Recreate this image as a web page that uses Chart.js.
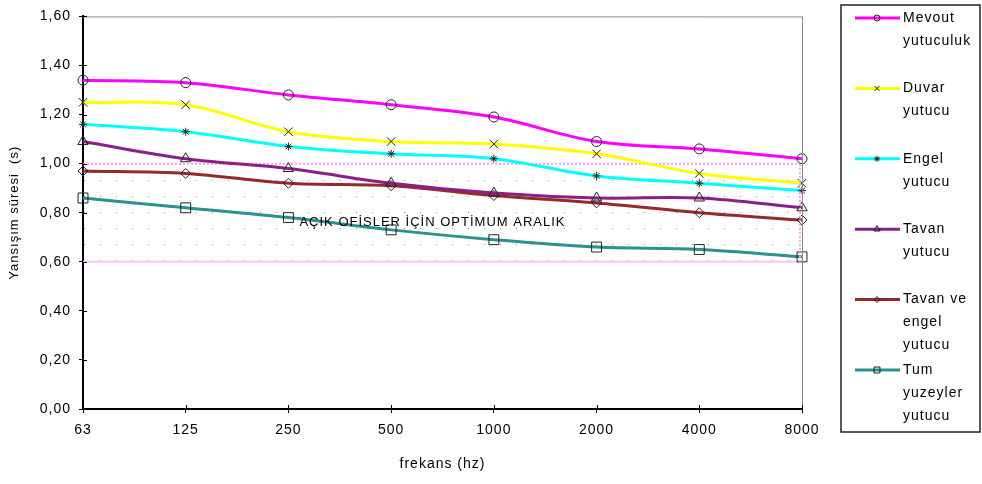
<!DOCTYPE html>
<html>
<head>
<meta charset="utf-8">
<script src="https://cdn.jsdelivr.net/npm/chart.js@4.4.1/dist/chart.umd.min.js"></script>
<style>
  html, body { margin: 0; padding: 0; background: #fff; }
</style>
</head>
<body>
<canvas id="chart" width="982" height="484"></canvas>
<script>
// frequency bands (x axis)
const frequencies = ["63", "125", "250", "500", "1000", "2000", "4000", "8000"];

// reverberation times
const mevcut     = [1.34, 1.33, 1.28, 1.24, 1.19, 1.09, 1.06, 1.02];
const duvar      = [1.25, 1.24, 1.13, 1.09, 1.08, 1.04, 0.96, 0.92];
const engel      = [1.16, 1.13, 1.07, 1.04, 1.02, 0.95, 0.92, 0.89];
const tavan      = [1.09, 1.02, 0.98, 0.92, 0.88, 0.86, 0.86, 0.82];
const tavanEngel = [0.97, 0.96, 0.92, 0.91, 0.87, 0.84, 0.80, 0.77];
const tum        = [0.86, 0.82, 0.78, 0.73, 0.69, 0.66, 0.65, 0.62];

// optimum range band for open offices
const bandLow  = [0.60, 0.60, 0.60, 0.60, 0.60, 0.60, 0.60, 0.60];
const bandHigh = [1.00, 1.00, 1.00, 1.00, 1.00, 1.00, 1.00, 1.00];
const bandText = "AÇIK OFİSLER İÇİN OPTİMUM ARALIK";

const seriesNames = [
  ["Mevout", "yutuculuk"],
  ["Duvar", "yutucu"],
  ["Engel", "yutucu"],
  ["Tavan", "yutucu"],
  ["Tavan ve", "engel", "yutucu"],
  ["Tum", "yuzeyler", "yutucu"],
];

const FONT = "'Liberation Sans', Arial, sans-serif";

// dotted fill for the band
const tile = document.createElement("canvas");
tile.width = 16;
tile.height = 16;
const tctx = tile.getContext("2d");
tctx.fillStyle = "#8c8c8c";
tctx.fillRect(4, 4, 1, 1);
const dots = tctx.createPattern(tile, "repeat");

function series(label, data, color, style, radius) {
  return {
    label: label,
    data: data,
    borderColor: color,
    backgroundColor: color,
    borderWidth: 3,
    tension: 0.35,
    fill: false,
    pointStyle: style,
    pointRadius: radius,
    pointBorderColor: "#222",
    pointBackgroundColor: "rgba(0,0,0,0)",
    pointBorderWidth: 1,
    order: 1,
  };
}

const lineSets = [
  series(seriesNames[0], mevcut, "#ff00ff", "circle", 5),
  series(seriesNames[1], duvar, "#ffff00", "crossRot", 6),
  series(seriesNames[2], engel, "#00ffff", "star", 4),
  series(seriesNames[3], tavan, "#8a1f8a", "triangle", 6),
  series(seriesNames[4], tavanEngel, "#962a2a", "rectRot", 5),
  series(seriesNames[5], tum, "#2a9090", "rect", 7),
];

const chartDecor = {
  id: "chartDecor",
  beforeLayout(chart) { chart.ctx.letterSpacing = "1px"; },
  beforeDraw(chart) { chart.ctx.letterSpacing = "1px"; },
  afterDatasetsDraw(chart) {
    const ctx = chart.ctx;
    const x = chart.scales.x, y = chart.scales.y;
    const a = chart.chartArea;
    ctx.save();
    // right edge of band
    ctx.strokeStyle = "#ff99ff";
    ctx.lineWidth = 2;
    ctx.setLineDash([2, 2]);
    ctx.beginPath();
    ctx.moveTo(a.right - 2, y.getPixelForValue(bandHigh[7]));
    ctx.lineTo(a.right - 2, y.getPixelForValue(bandLow[7]));
    ctx.stroke();
    ctx.setLineDash([]);
    // band label
    ctx.letterSpacing = "1px";
    ctx.fillStyle = "#000";
    ctx.font = "13px " + FONT;
    ctx.textBaseline = "middle";
    ctx.fillText(bandText, x.getPixelForValue(2) + 11, y.getPixelForValue(0.76));
    ctx.restore();
  },
  afterDraw(chart) {
    const ctx = chart.ctx;
    const x = chart.scales.x, y = chart.scales.y;
    const a = chart.chartArea;
    ctx.save();
    // grey frame top and right
    ctx.strokeStyle = "#8a8a8a";
    ctx.lineWidth = 1;
    ctx.beginPath();
    ctx.moveTo(a.left, a.top + 0.5);
    ctx.lineTo(a.right + 0.5, a.top + 0.5);
    ctx.lineTo(a.right + 0.5, a.bottom);
    ctx.stroke();
    // inner halves of the crossing ticks
    ctx.strokeStyle = "#000";
    ctx.lineWidth = 1;
    ctx.beginPath();
    y.ticks.forEach(t => {
      const py = Math.round(y.getPixelForValue(t.value)) + 0.5;
      ctx.moveTo(a.left, py);
      ctx.lineTo(a.left + 4, py);
    });
    frequencies.forEach((f, i) => {
      const px = Math.round(x.getPixelForValue(i)) + 0.5;
      ctx.moveTo(px, a.bottom);
      ctx.lineTo(px, a.bottom - 4);
    });
    ctx.stroke();

    // legend box
    const bx = 841, by = 5, bw = 139, bh = 427;
    ctx.fillStyle = "#fff";
    ctx.fillRect(bx, by, bw, bh);
    ctx.strokeStyle = "#222";
    ctx.lineWidth = 1.5;
    ctx.strokeRect(bx, by, bw, bh);
    ctx.font = "14px " + FONT;
    ctx.letterSpacing = "1px";
    ctx.textBaseline = "middle";
    lineSets.forEach((ds, i) => {
      const ly = 18 + i * 70.4;
      ctx.strokeStyle = ds.borderColor;
      ctx.lineWidth = 3;
      ctx.beginPath();
      ctx.moveTo(855, ly);
      ctx.lineTo(900, ly);
      ctx.stroke();
      if (Chart.helpers && Chart.helpers.drawPoint) {
        ctx.strokeStyle = "#222";
        ctx.fillStyle = "rgba(0,0,0,0)";
        ctx.lineWidth = 1;
        Chart.helpers.drawPoint(ctx, {
          pointStyle: ds.pointStyle,
          radius: Math.max(3, ds.pointRadius * 0.6),
          rotation: 0,
          borderWidth: 1,
        }, 877, ly);
      }
      ctx.fillStyle = "#000";
      ds.label.forEach((t, k) => {
        ctx.fillText(t, 903, ly + k * 23);
      });
    });
    ctx.restore();
  },
};

new Chart(document.getElementById("chart"), {
  type: "line",
  data: {
    labels: frequencies,
    datasets: [
      {
        label: "band-low",
        data: bandLow,
        borderColor: "#ffc4ff",
        borderWidth: 2,
        pointRadius: 0,
        tension: 0,
        fill: false,
        order: 5,
      },
      {
        label: "band-high",
        data: bandHigh,
        borderColor: "#ff99ff",
        borderWidth: 2,
        borderDash: [2, 2],
        backgroundColor: dots,
        pointRadius: 0,
        tension: 0,
        fill: "-1",
        order: 5,
      },
      ...lineSets,
    ],
  },
  options: {
    responsive: false,
    devicePixelRatio: 1,
    animation: false,
    layout: { padding: { left: 0, right: 180, top: 14, bottom: 0 } },
    plugins: {
      legend: { display: false },
      tooltip: { enabled: false },
    },
    scales: {
      x: {
        type: "category",
        offset: false,
        afterFit(scale) { scale.height = 75; },
        grid: {
          drawOnChartArea: false,
          color: "#000",
          tickColor: "#000",
          tickLength: 4,
        },
        border: { color: "#000", width: 2 },
        ticks: {
          color: "#000",
          padding: 9,
          maxRotation: 0,
          autoSkip: false,
          font: { family: FONT, size: 14 },
        },
        title: {
          display: true,
          text: "frekans (hz)",
          color: "#000",
          font: { family: FONT, size: 14 },
          padding: { top: 0, bottom: 11 },
        },
      },
      y: {
        min: 0,
        max: 1.6,
        afterFit(scale) { scale.width = 83; },
        grid: {
          drawOnChartArea: false,
          color: "#000",
          tickColor: "#000",
          tickLength: 4,
        },
        border: { color: "#000", width: 2 },
        ticks: {
          stepSize: 0.2,
          color: "#000",
          padding: 8,
          font: { family: FONT, size: 14 },
          callback: v => Number(v).toFixed(2).replace(".", ","),
        },
        title: {
          display: true,
          text: "Yansışım süresi  (s)",
          color: "#000",
          font: { family: FONT, size: 13 },
          padding: { top: 7, bottom: 0 },
        },
      },
    },
  },
  plugins: [chartDecor],
});
</script>
</body>
</html>
